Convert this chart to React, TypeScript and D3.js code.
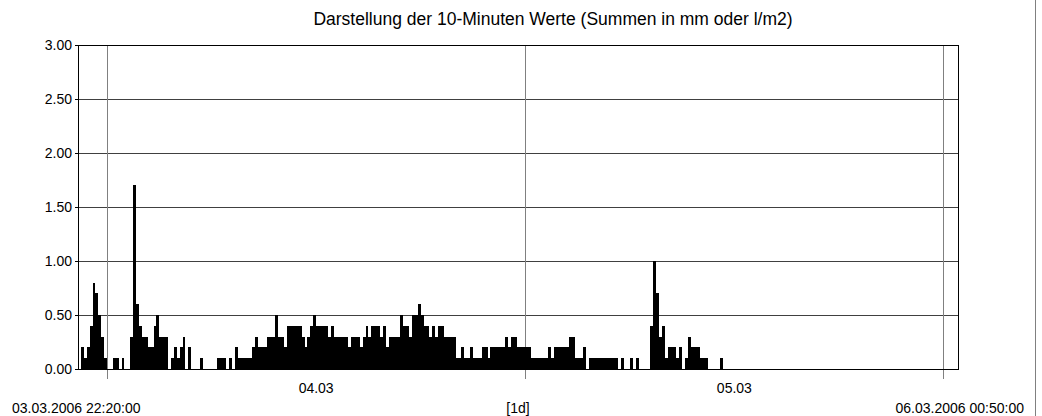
import React from 'react';
import * as d3 from 'd3';

// 10-minute rain sums (mm), starting 03.03.2006 22:20
const rainValues = [
  0, 0.2, 0.1, 0.2, 0.4, 0.8, 0.7, 0.5, 0.3, 0.1,
  0, 0, 0.1, 0.1, 0, 0.1, 0, 0, 0.3, 1.7,
  0.6, 0.4, 0.3, 0.3, 0.2, 0.2, 0.4, 0.5, 0.3, 0.3,
  0.3, 0, 0.1, 0.2, 0.1, 0.2, 0.3, 0, 0.2, 0,
  0, 0, 0.1, 0, 0, 0, 0, 0, 0.1, 0.1,
  0.1, 0, 0.1, 0, 0.2, 0.1, 0.1, 0.1, 0.1, 0.1,
  0.2, 0.3, 0.2, 0.2, 0.2, 0.3, 0.3, 0.3, 0.5, 0.3,
  0.3, 0.2, 0.4, 0.4, 0.4, 0.4, 0.4, 0.3, 0.2, 0.3,
  0.4, 0.5, 0.4, 0.4, 0.4, 0.4, 0.3, 0.4, 0.3, 0.3,
  0.3, 0.3, 0.3, 0.2, 0.3, 0.3, 0.3, 0.2, 0.3, 0.4,
  0.3, 0.4, 0.4, 0.4, 0.3, 0.4, 0.2, 0.3, 0.3, 0.3,
  0.3, 0.5, 0.4, 0.4, 0.3, 0.5, 0.5, 0.6, 0.5, 0.4,
  0.4, 0.3, 0.4, 0.3, 0.4, 0.4, 0.3, 0.3, 0.3, 0.3,
  0.1, 0.1, 0.2, 0.1, 0.1, 0.2, 0.1, 0.1, 0.1, 0.2,
  0.2, 0.1, 0.2, 0.2, 0.2, 0.2, 0.2, 0.3, 0.2, 0.3,
  0.3, 0.2, 0.2, 0.2, 0.2, 0.2, 0.1, 0.1, 0.1, 0.1,
  0.1, 0.1, 0.2, 0.1, 0.2, 0.2, 0.2, 0.2, 0.2, 0.3,
  0.3, 0.1, 0.1, 0.1, 0.2, 0, 0.1, 0.1, 0.1, 0.1,
  0.1, 0.1, 0.1, 0.1, 0.1, 0.1, 0, 0.1, 0, 0,
  0.1, 0, 0.1, 0, 0, 0, 0, 0.4, 1.0, 0.7,
  0.3, 0.4, 0.1, 0.2, 0.2, 0.2, 0.1, 0.2, 0, 0.1,
  0.3, 0.2, 0.2, 0.2, 0.1, 0.1, 0.1, 0, 0, 0,
  0, 0.1,
];

const yTicks = [0, 0.5, 1, 1.5, 2, 2.5, 3];
const dayLabels = ['04.03', '05.03'];
const startLabel = '03.03.2006 22:20:00';
const endLabel = '06.03.2006 00:50:00';
const spanLabel = '[1d]';
const title = 'Darstellung der 10-Minuten Werte (Summen in mm oder l/m2)';

const startTime = new Date(Date.UTC(2006, 2, 3, 22, 20));
const endTime = new Date(Date.UTC(2006, 2, 6, 0, 50));
const stepMs = 10 * 60 * 1000;

const width = 1042;
const height = 416;
const plot = { left: 78, right: 958, top: 45, bottom: 369 };
const font = 'Liberation Sans, Arial, Helvetica, sans-serif';

export default function App() {
  const x = d3.scaleUtc().domain([startTime, endTime]).range([plot.left, plot.right]);
  const y = d3.scaleLinear().domain([0, 3]).range([plot.bottom, plot.top]);

  const bars = rainValues
    .map((v, i) => {
      const t0 = new Date(startTime.getTime() + i * stepMs);
      const t1 = new Date(t0.getTime() + stepMs);
      return { v, t0, t1 };
    })
    .filter(d => d.v > 0);

  const days = d3.utcDay.range(d3.utcDay.ceil(startTime), endTime);

  return (
    <svg
      width={width}
      height={height}
      style={{ position: 'absolute', left: 0, top: 0, background: '#fff' }}
      fontFamily={font}
    >
      <text x={553} y={25} fontSize={17.5} textAnchor="middle" fill="#000">
        {title}
      </text>

      {/* horizontal grid */}
      {yTicks.slice(1, -1).map(t => (
        <line
          key={'h' + t}
          x1={plot.left}
          x2={plot.right}
          y1={Math.round(y(t)) + 0.5}
          y2={Math.round(y(t)) + 0.5}
          stroke="#404040"
        />
      ))}

      {/* vertical day lines */}
      {days.map(d => (
        <line
          key={'v' + d.getTime()}
          x1={Math.round(x(d)) + 0.5}
          x2={Math.round(x(d)) + 0.5}
          y1={plot.top}
          y2={plot.bottom + 10}
          stroke="#808080"
        />
      ))}

      {/* bars */}
      <g shapeRendering="crispEdges">
        {bars.map((d, i) => (
          <rect
            key={i}
            x={x(d.t0)}
            width={x(d.t1) - x(d.t0)}
            y={y(d.v)}
            height={plot.bottom - y(d.v)}
            fill="#000"
          />
        ))}
      </g>

      {/* plot frame */}
      <rect
        x={plot.left + 0.5}
        y={plot.top + 0.5}
        width={plot.right - plot.left}
        height={plot.bottom - plot.top}
        fill="none"
        stroke="#000"
      />

      {/* y axis ticks and labels */}
      {yTicks.map(t => (
        <g key={'y' + t}>
          <line
            x1={plot.left - 3}
            x2={plot.left}
            y1={Math.round(y(t)) + 0.5}
            y2={Math.round(y(t)) + 0.5}
            stroke="#000"
          />
          <text x={72} y={y(t)} dy="0.36em" fontSize={14} textAnchor="end" fill="#000">
            {d3.format('.2f')(t)}
          </text>
        </g>
      ))}

      {/* day labels centred in each day */}
      {days.slice(0, -1).map((d, i) => (
        <text
          key={'d' + i}
          x={(x(d) + x(d3.utcDay.offset(d, 1))) / 2}
          y={393}
          fontSize={14}
          textAnchor="middle"
          fill="#000"
        >
          {dayLabels[i]}
        </text>
      ))}

      <text x={12} y={413} fontSize={14} fill="#000">
        {startLabel}
      </text>
      <text x={518} y={413} fontSize={14} textAnchor="middle" fill="#000">
        {spanLabel}
      </text>
      <text x={1024} y={413} fontSize={14} textAnchor="end" fill="#000">
        {endLabel}
      </text>

      <line x1={1035.5} x2={1035.5} y1={0} y2={height} stroke="#808080" />
    </svg>
  );
}
